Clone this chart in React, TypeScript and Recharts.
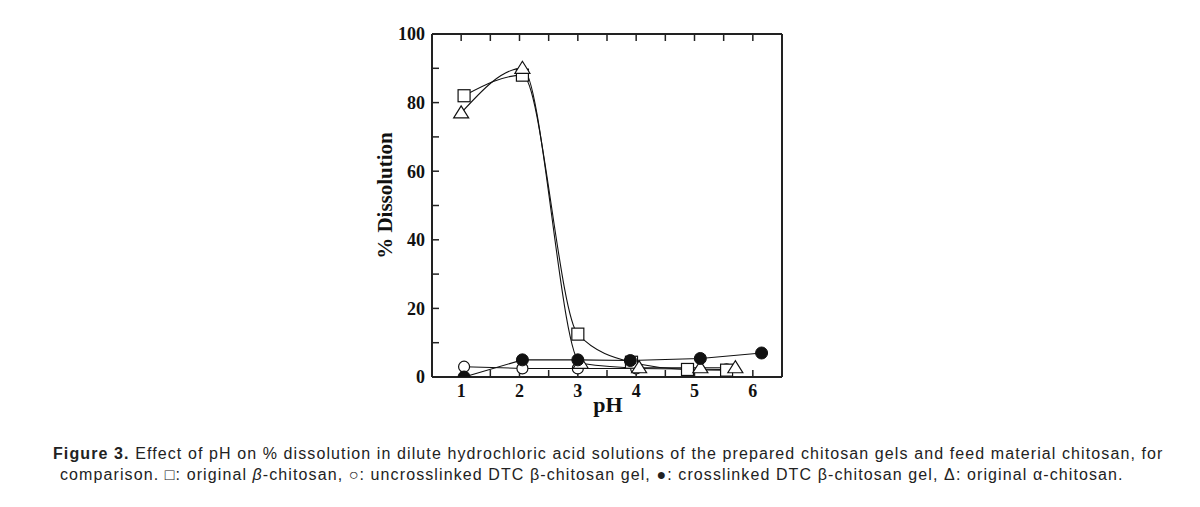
import React from 'react';
import { LineChart, Line, XAxis, YAxis } from 'recharts';

// original beta-chitosan (open squares)
const phSquare = [1.05, 2.05, 3.0, 3.92, 4.88, 5.55];
const dissSquare = [82, 88, 12.5, 4.3, 2.2, 2.0];
// original alpha-chitosan (open triangles)
const phTriangle = [1.0, 2.05, 3.05, 4.05, 5.1, 5.7];
const dissTriangle = [77, 90, 4, 2.7, 2.7, 2.7];
// uncrosslinked DTC beta-chitosan gel (open circles)
const phOpenCircle = [1.05, 2.05, 3.0, 4.0, 5.55];
const dissOpenCircle = [3, 2.5, 2.5, 2.5, 2.2];
// crosslinked DTC beta-chitosan gel (filled circles)
const phFilledCircle = [1.05, 2.05, 3.0, 3.9, 5.1, 6.15];
const dissFilledCircle = [0, 5, 5, 4.8, 5.4, 7];

const xTicks = [1, 1.5, 2, 2.5, 3, 3.5, 4, 4.5, 5, 5.5, 6];
const yTicks = [0, 10, 20, 30, 40, 50, 60, 70, 80, 90, 100];

const toPoints = (xs: number[], ys: number[]) => xs.map((x, i) => ({ x, y: ys[i] }));

const INK = '#111';
const serif = '"Liberation Serif", "Times New Roman", serif';

const SquareDot = (props: any) => {
  const { cx, cy, index } = props;
  if (cx == null || cy == null) return null;
  return <rect key={`sq-${index}`} x={cx - 6} y={cy - 6} width={12} height={12} fill="#fff" stroke={INK} strokeWidth={1.2} />;
};

const TriangleDot = (props: any) => {
  const { cx, cy, index } = props;
  if (cx == null || cy == null) return null;
  const pts = `${cx},${cy - 7} ${cx - 7.5},${cy + 5} ${cx + 7.5},${cy + 5}`;
  return <polygon key={`tr-${index}`} points={pts} fill="#fff" stroke={INK} strokeWidth={1.2} />;
};

const OpenCircleDot = (props: any) => {
  const { cx, cy, index } = props;
  if (cx == null || cy == null) return null;
  return <circle key={`oc-${index}`} cx={cx} cy={cy} r={5.5} fill="#fff" stroke={INK} strokeWidth={1.2} />;
};

const FilledCircleDot = (props: any) => {
  const { cx, cy, index } = props;
  if (cx == null || cy == null) return null;
  return <circle key={`fc-${index}`} cx={cx} cy={cy} r={6} fill={INK} stroke={INK} strokeWidth={1} />;
};

const YLabel = (props: any) => {
  const { viewBox } = props;
  const cx = viewBox.x + 47;
  const cy = viewBox.y + viewBox.height / 2 - 10;
  return (
    <text x={cx} y={cy} transform={`rotate(-90, ${cx}, ${cy})`} textAnchor="middle" dominantBaseline="central"
      fontFamily={serif} fontWeight="bold" fontSize={21} fill={INK}>
      % Dissolution
    </text>
  );
};

const XLabel = (props: any) => {
  const { viewBox } = props;
  return (
    <text x={viewBox.x + viewBox.width / 2 + 1} y={viewBox.y + 35} textAnchor="middle"
      fontFamily={serif} fontWeight="bold" fontSize={22} fill={INK}>
      pH
    </text>
  );
};

const tickStyle = { fontFamily: serif, fontWeight: 'bold' as const, fontSize: 18, fill: INK };

export default function App() {
  return (
    <div style={{ position: 'absolute', left: 0, top: 0, width: 1200, height: 507, background: '#fff' }}>
      <LineChart width={1200} height={430} margin={{ top: 33, right: 417, bottom: 13, left: 338 }}>
        <XAxis
          type="number"
          dataKey="x"
          domain={[0.5, 6.5]}
          ticks={xTicks}
          interval={0}
          allowDataOverflow
          height={40}
          tickSize={-7}
          tickMargin={14}
          tickFormatter={(v: number) => (Number.isInteger(v) ? String(v) : '')}
          tick={tickStyle}
          axisLine={{ stroke: '#222', strokeWidth: 2 }}
          tickLine={{ stroke: '#222', strokeWidth: 1.5 }}
          label={<XLabel />}
        />
        <XAxis
          xAxisId="top"
          orientation="top"
          type="number"
          dataKey="x"
          domain={[0.5, 6.5]}
          ticks={xTicks}
          interval={0}
          allowDataOverflow
          height={1}
          tickSize={-7}
          tickFormatter={() => ''}
          axisLine={{ stroke: '#222', strokeWidth: 2 }}
          tickLine={{ stroke: '#222', strokeWidth: 1.5 }}
        />
        <YAxis
          type="number"
          domain={[0, 100]}
          ticks={yTicks}
          interval={0}
          allowDataOverflow
          width={94}
          tickSize={-7}
          tickMargin={14}
          tickFormatter={(v: number) => (v % 20 === 0 ? String(v) : '')}
          tick={tickStyle}
          axisLine={{ stroke: '#222', strokeWidth: 2 }}
          tickLine={{ stroke: '#222', strokeWidth: 1.5 }}
          label={<YLabel />}
        />
        <YAxis
          yAxisId="right"
          orientation="right"
          type="number"
          domain={[0, 100]}
          width={1}
          tick={false}
          tickLine={false}
          axisLine={{ stroke: '#222', strokeWidth: 2 }}
        />
        <Line data={toPoints(phOpenCircle, dissOpenCircle)} dataKey="y" type="linear" stroke={INK} strokeWidth={1.1}
          dot={OpenCircleDot} activeDot={false} isAnimationActive={false} />
        <Line data={toPoints(phSquare, dissSquare)} dataKey="y" type="monotone" stroke={INK} strokeWidth={1.1}
          dot={SquareDot} activeDot={false} isAnimationActive={false} />
        <Line data={toPoints(phTriangle, dissTriangle)} dataKey="y" type="monotone" stroke={INK} strokeWidth={1.1}
          dot={TriangleDot} activeDot={false} isAnimationActive={false} />
        <Line data={toPoints(phFilledCircle, dissFilledCircle)} dataKey="y" type="linear" stroke={INK} strokeWidth={1.1}
          dot={FilledCircleDot} activeDot={false} isAnimationActive={false} />
      </LineChart>
      <div style={{ position: 'absolute', left: 53, top: 443, fontFamily: '"Liberation Sans", Arial, sans-serif', fontSize: 16, letterSpacing: '1.1px', lineHeight: '21px', color: '#222', whiteSpace: 'nowrap' }}>
        <div><b>Figure 3.</b> Effect of pH on % dissolution in dilute hydrochloric acid solutions of the prepared chitosan gels and feed material chitosan, for</div>
        <div style={{ paddingLeft: 7 }}>comparison. □: original <i>β</i>-chitosan, ○: uncrosslinked DTC β-chitosan gel, ●: crosslinked DTC β-chitosan gel, Δ: original α-chitosan.</div>
      </div>
    </div>
  );
}
